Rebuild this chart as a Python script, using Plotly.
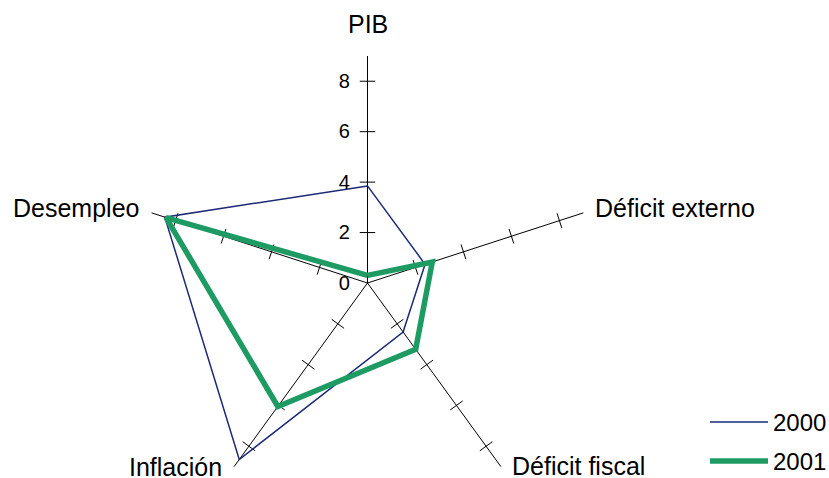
import plotly.graph_objects as go

# categories and series values
categories = ["PIB", "Déficit externo", "Déficit fiscal", "Inflación", "Desempleo"]
values_2000 = [3.85, 2.4, 2.4, 8.65, 8.45]
values_2001 = [0.3, 2.7, 3.25, 6.05, 8.4]
radial_ticks = [0, 2, 4, 6, 8]

FONT = "Liberation Sans, Arial, sans-serif"
BLUE = "#1c2a78"
GREEN = "#1e9b63"

W, H = 829, 520

# close the polygons
theta_closed = categories + categories[:1]
r2000 = values_2000 + values_2000[:1]
r2001 = values_2001 + values_2001[:1]

fig = go.Figure()

# small tick marks crossing each spoke (Excel style)
tick_theta = []
tick_r = []
tick_angle = []
for i, cat in enumerate(categories):
    for t in radial_ticks[1:]:
        tick_theta.append(cat)
        tick_r.append(t)
        tick_angle.append(72 * i)

fig.add_trace(go.Scatterpolar(
    r=tick_r, theta=tick_theta, mode="markers",
    marker=dict(symbol="line-ew", size=11, angle=tick_angle,
                line=dict(color="black", width=1)),
    hoverinfo="skip", showlegend=False,
))

fig.add_trace(go.Scatterpolar(
    r=r2000, theta=theta_closed, mode="lines", name="2000",
    line=dict(color=BLUE, width=1.5), showlegend=False,
))
fig.add_trace(go.Scatterpolar(
    r=r2001, theta=theta_closed, mode="lines", name="2001",
    line=dict(color=GREEN, width=5.5), showlegend=False,
))

fig.update_layout(
    width=W, height=H,
    margin=dict(l=0, r=0, t=0, b=0),
    paper_bgcolor="white",
    font=dict(family=FONT, color="black"),
    showlegend=False,
    polar=dict(
        domain=dict(x=[0.0, 0.8866], y=[10 / H, 1 - 56 / H]),
        bgcolor="white",
        gridshape="linear",
        radialaxis=dict(
            range=[0, 9], angle=90, side="counterclockwise", tickangle=90,
            tickvals=radial_ticks, ticks="outside", ticklen=10,
            tickcolor="rgba(0,0,0,0)", showline=False, showgrid=False,
            tickfont=dict(size=20, family=FONT, color="black"),
        ),
        angularaxis=dict(
            rotation=90, direction="clockwise",
            showline=False, ticks="", showticklabels=False,
            gridcolor="black", gridwidth=1,
        ),
    ),
)

# category labels placed like Excel does (pixel positions from the top-left)
label_pos = [
    ("PIB", 368, 24, "center"),
    ("Déficit externo", 593, 208, "left"),
    ("Desempleo", 141, 208, "right"),
    ("Déficit fiscal", 510, 466, "left"),
    ("Inflación", 224, 467, "right"),
]
for text, xp, yp, anchor in label_pos:
    fig.add_annotation(text=text, xref="paper", yref="paper",
                       x=xp / W, y=1 - yp / H, xanchor=anchor, yanchor="middle",
                       showarrow=False, font=dict(size=25, family=FONT, color="black"))

# legend drawn by hand to get the long Excel-style keys
legend_items = [("2000", BLUE, 1.5, 422), ("2001", GREEN, 5.5, 461)]
for label, color, width, ypix in legend_items:
    yp = 1 - ypix / H
    fig.add_shape(type="line", xref="paper", yref="paper",
                  x0=710 / W, x1=768 / W, y0=yp, y1=yp,
                  line=dict(color=color, width=width))
    fig.add_annotation(text=label, xref="paper", yref="paper",
                       x=771 / W, y=yp, xanchor="left", yanchor="middle",
                       showarrow=False, font=dict(size=24, family=FONT, color="black"))

fig.write_html("out.html", config={"displayModeBar": False},
               post_script="document.body.style.margin='0';document.body.style.overflow='hidden';")
